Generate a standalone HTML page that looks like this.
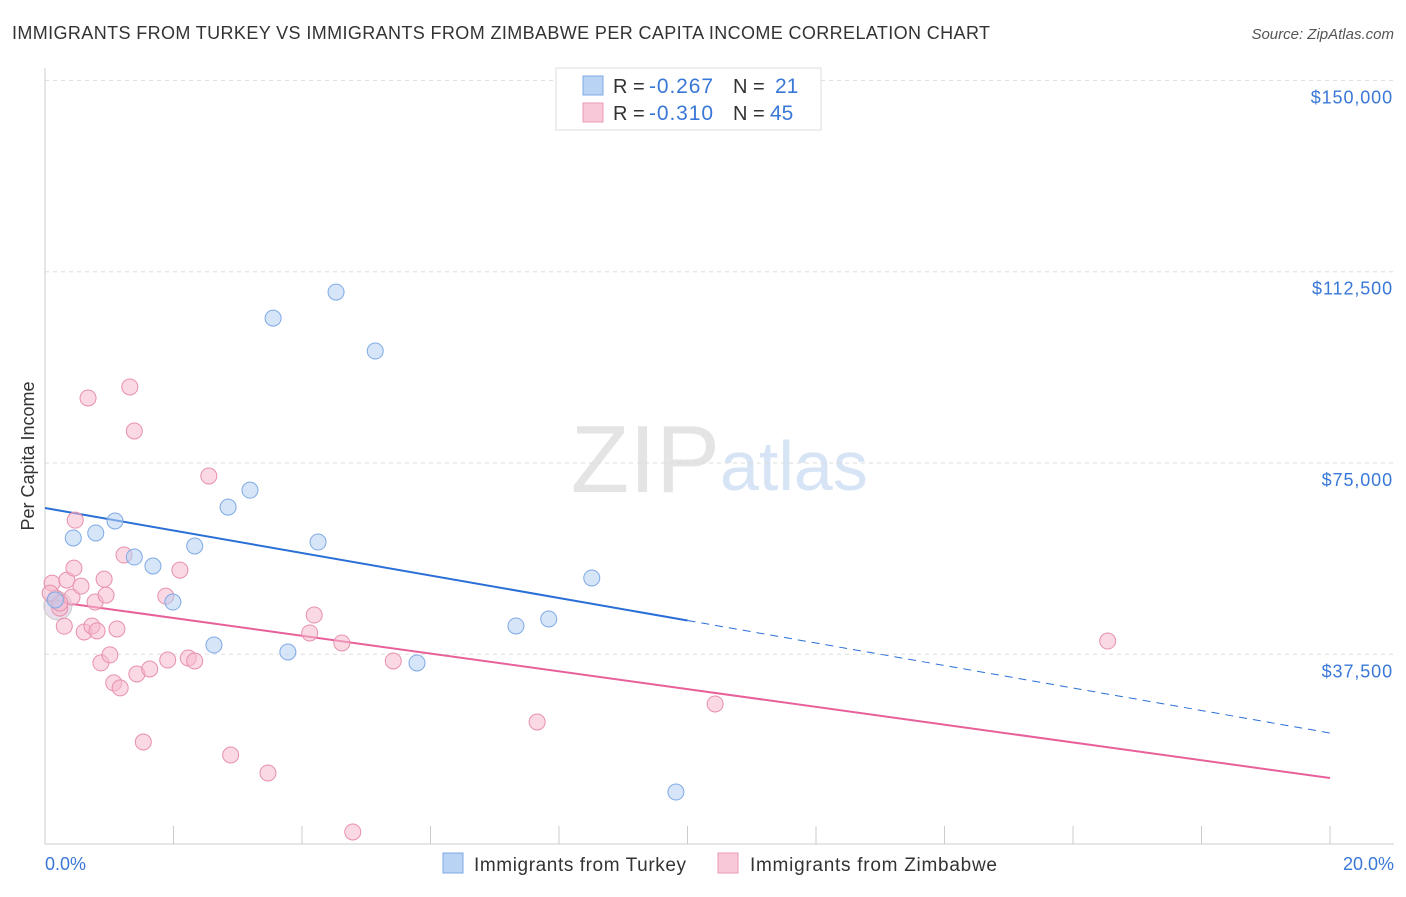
<!DOCTYPE html>
<html><head><meta charset="utf-8"><style>
body{margin:0;background:#fff;font-family:"Liberation Sans",sans-serif;}
svg text{font-family:"Liberation Sans",sans-serif;}
</style></head><body>
<svg id="chart" width="1406" height="892">
<text x="12" y="39" font-size="18" fill="#333" textLength="978" lengthAdjust="spacing">IMMIGRANTS FROM TURKEY VS IMMIGRANTS FROM ZIMBABWE PER CAPITA INCOME CORRELATION CHART</text>
<text x="1394" y="39" font-size="15" fill="#555" text-anchor="end" font-style="italic">Source: ZipAtlas.com</text>
<text x="720" y="492" font-size="96" fill="#e4e4e4" text-anchor="end" font-family="Liberation Serif">ZIP</text>
<text x="720" y="490" font-size="70" fill="#d6e4f6">atlas</text>
<g id="grid"></g><g id="axes"></g><g id="lines"></g><g id="points"></g>
<text x="34" y="456" font-size="18" fill="#333" text-anchor="middle" transform="rotate(-90 34 456)">Per Capita Income</text>
<text x="45" y="870" font-size="18" fill="#3a78d8">0.0%</text>
<text x="1394" y="870" font-size="18" fill="#3a78d8" text-anchor="end">20.0%</text>
<g>
<rect x="556" y="68" width="265" height="62" fill="#fff" stroke="#ddd"/>
<rect x="583" y="76" width="20" height="19" fill="#b9d3f5" stroke="#7faae6"/>
<rect x="583" y="103" width="20" height="19" fill="#f9c8d8" stroke="#ea9ab5"/>
<text x="613" y="93" font-size="20" fill="#333">R =</text>
<text x="649" y="93" font-size="21" fill="#3a78d8" textLength="64" lengthAdjust="spacing">-0.267</text>
<text x="733" y="93" font-size="20" fill="#333">N =</text>
<text x="775" y="93" font-size="21" fill="#3a78d8">21</text>
<text x="613" y="120" font-size="20" fill="#333">R =</text>
<text x="649" y="120" font-size="21" fill="#3a78d8" textLength="64" lengthAdjust="spacing">-0.310</text>
<text x="733" y="120" font-size="20" fill="#333">N =</text>
<text x="770" y="120" font-size="21" fill="#3a78d8">45</text>
</g>
<g>
<rect x="443" y="853" width="20" height="20" fill="#b9d3f5" stroke="#7faae6"/>
<text x="474" y="871" font-size="19" fill="#333" textLength="212" lengthAdjust="spacing">Immigrants from Turkey</text>
<rect x="718" y="853" width="20" height="20" fill="#f9c8d8" stroke="#ea9ab5"/>
<text x="750" y="871" font-size="19" fill="#333" textLength="247" lengthAdjust="spacing">Immigrants from Zimbabwe</text>
</g>
</svg>
<script>
const yTicks=[37500,75000,112500,150000];
const yTickLabels=["$37,500","$75,000","$112,500","$150,000"];
const xTicks=[0,2,4,6,8,10,12,14,16,18,20];
const turkeyX=[0.16,0.44,0.79,1.09,1.39,1.68,1.99,2.33,2.63,2.85,3.19,3.55,3.78,4.25,4.53,5.14,5.79,7.33,7.84,8.51,9.82];
const turkeyY=[48150,60300,61280,63630,56570,54810,47750,58730,39320,66350,69680,103400,37950,59510,108500,96950,35800,43050,44420,52460,10500];
const zimX=[0.11,0.17,0.23,0.30,0.34,0.42,0.45,0.47,0.56,0.61,0.67,0.73,0.78,0.81,0.87,0.92,0.95,1.01,1.07,1.12,1.17,1.23,1.32,1.39,1.43,1.53,1.63,1.88,1.91,2.10,2.23,2.33,2.55,2.89,3.47,4.12,4.19,4.62,4.79,5.42,7.66,10.43,16.54,0.23,0.08];
const zimY=[51450,48510,46550,43020,52040,48710,54390,63800,50860,41880,87740,43050,47750,42080,35810,52230,49100,37380,31890,42460,30910,56960,89910,81280,33640,20310,34620,48900,36380,54000,36780,36190,72450,17760,14230,41680,45200,39720,2670,36190,24230,27760,40100,47530,49490];
const turkeyTrend=[66180,22070];
const zimTrend=[48100,13250];
const NS="http://www.w3.org/2000/svg";
const xs=v=>45+v/20*1285;
const ys=v=>845.6-v/37500*191.3;
function mk(tag,attrs,parent){const e=document.createElementNS(NS,tag);for(const k in attrs)e.setAttribute(k,attrs[k]);document.getElementById(parent).appendChild(e);return e;}
yTicks.forEach((t,i)=>{
 const l=mk('line',{x1:45,x2:1394,y1:ys(t),y2:ys(t),stroke:'#ddd','stroke-dasharray':'4,4'},'grid');
 
 
 const tx=mk('text',{x:1393,y:ys(t)+23,'font-size':18,fill:'#3a78d8','text-anchor':'end','letter-spacing':'0.9'},'grid');
 tx.textContent=yTickLabels[i];
 
 
});
const ax=mk('line',{x1:45,x2:1394,y1:844,y2:844,stroke:'#ccc'},'axes');


const ay=mk('line',{x1:45,x2:45,y1:68,y2:844,stroke:'#ccc'},'axes');


xTicks.forEach(t=>{
 const l=mk('line',{x1:xs(t),x2:xs(t),y1:826,y2:844,stroke:'#ccc'},'axes');
 
 
});
function pts(X,Y,fill,stroke,name){X.forEach((x,i)=>{
 const c=mk('circle',{cx:xs(x),cy:ys(Y[i]),r:8,fill:fill,'fill-opacity':0.55,stroke:stroke,'stroke-width':1},'points');
 
 
});}
const big=mk('circle',{cx:xs(0.2),cy:ys(47000),r:14,fill:'#d8c8e0','fill-opacity':0.6,stroke:'#ccc'},'points');


pts(zimX,zimY,'#f6b9cd','#e890ac','zimbabwe-point');
pts(turkeyX,turkeyY,'#b5d0f3','#7faae6','turkey-point');
const tm=turkeyTrend[0]+(turkeyTrend[1]-turkeyTrend[0])*(10/20);
const l1=mk('line',{x1:xs(0),y1:ys(turkeyTrend[0]),x2:xs(10),y2:ys(tm),stroke:'#2a6fd6','stroke-width':2},'lines');


const l2=mk('line',{x1:xs(10),y1:ys(tm),x2:xs(20),y2:ys(turkeyTrend[1]),stroke:'#2a6fd6','stroke-width':1,'stroke-dasharray':'8,6'},'lines');


const l3=mk('line',{x1:xs(0),y1:ys(zimTrend[0]),x2:xs(20),y2:ys(zimTrend[1]),stroke:'#e8609a','stroke-width':2},'lines');


</script>
</body></html>
